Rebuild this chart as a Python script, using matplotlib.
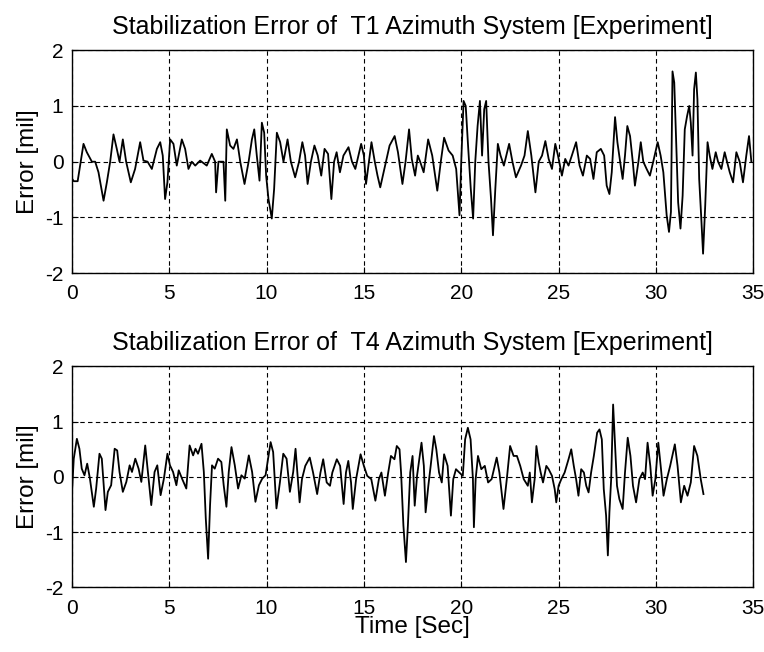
import matplotlib.pyplot as plt

# T1 azimuth stabilization error (time in s, error in mil)
t1_time = [0.0, 0.1, 0.3, 0.6, 0.77, 1.03, 1.2, 1.37, 1.63, 1.8, 1.97, 2.14, 2.31, 2.45, 2.62, 2.79,
           3.03, 3.25, 3.51, 3.68, 3.89, 4.11, 4.37, 4.54, 4.67, 4.79, 4.91, 5.05, 5.22, 5.39, 5.65,
           5.82, 5.99, 6.16, 6.34, 6.59, 6.93, 7.19, 7.36, 7.41, 7.53, 7.79, 7.88, 7.96, 8.13, 8.3,
           8.48, 8.65, 8.87, 9.08, 9.25, 9.37, 9.5, 9.64, 9.76, 9.88, 9.98, 10.1, 10.27, 10.39, 10.53,
           10.7, 10.87, 11.08, 11.25, 11.47, 11.67, 11.84, 11.98, 12.11, 12.28, 12.46, 12.63, 12.81,
           12.98, 13.16, 13.33, 13.47, 13.6, 13.77, 13.95, 14.21, 14.39, 14.56, 14.86, 15.0, 15.11,
           15.26, 15.39, 15.56, 15.7, 15.84, 16.05, 16.32, 16.58, 16.75, 16.98, 17.14, 17.32, 17.46,
           17.63, 17.77, 17.89, 18.07, 18.3, 18.51, 18.77, 18.95, 19.12, 19.35, 19.56, 19.74, 19.91,
           20.0, 20.12, 20.23, 20.35, 20.49, 20.61, 20.72, 20.84, 20.96, 21.07, 21.18, 21.28, 21.4,
           21.53, 21.63, 21.75, 21.88, 22.02, 22.19, 22.46, 22.63, 22.81, 23.07, 23.25, 23.42, 23.6,
           23.81, 23.98, 24.15, 24.32, 24.49, 24.66, 24.83, 24.97, 25.17, 25.34, 25.51, 25.68, 25.9,
           26.08, 26.25, 26.45, 26.62, 26.79, 26.96, 27.17, 27.34, 27.47, 27.61, 27.73, 27.9, 28.02,
           28.16, 28.29, 28.41, 28.53, 28.67, 28.81, 28.92, 29.1, 29.22, 29.35, 29.52, 29.69, 29.86,
           30.09, 30.24, 30.38, 30.55, 30.67, 30.77, 30.85, 30.94, 31.02, 31.14, 31.26, 31.37, 31.48,
           31.6, 31.71, 31.79, 31.88, 31.96, 32.05, 32.13, 32.22, 32.32, 32.42, 32.53, 32.65, 32.76,
           32.9, 33.07, 33.19, 33.36, 33.53, 33.65, 33.79, 33.96, 34.13, 34.3, 34.47, 34.64, 34.78,
           34.9]
t1_err = [-0.3, -0.35, -0.35, 0.32, 0.17, 0.0, 0.0, -0.19, -0.7, -0.37, 0.0, 0.49, 0.23, 0.0, 0.4, 0.0,
          -0.37, -0.13, 0.35, 0.02, 0.0, -0.13, 0.23, 0.35, 0.11, -0.67, -0.37, 0.4, 0.32, -0.07, 0.4,
          0.23, -0.13, 0.0, -0.07, 0.02, -0.07, 0.14, 0.0, -0.55, 0.0, 0.0, -0.7, 0.58, 0.29, 0.23,
          0.4, 0.0, -0.4, 0.0, 0.4, 0.58, 0.11, -0.34, 0.7, 0.52, -0.25, -0.67, -1.02, -0.49, 0.52,
          0.35, 0.0, 0.4, 0.0, -0.28, 0.0, 0.35, 0.11, -0.4, 0.0, 0.29, 0.11, -0.25,
          0.23, 0.14, -0.67, 0.0, 0.17, -0.19, 0.11, 0.26, 0.0, -0.13, 0.32, 0.11, -0.4,
          0.0, 0.35, 0.0, -0.25, -0.46, -0.13, 0.29, 0.46, 0.17, -0.4, 0.0, 0.58, 0.05,
          -0.25, 0.11, 0.0, -0.19, 0.4, 0.11, -0.52, 0.0, 0.43, 0.2, 0.11, -0.13, -0.96,
          0.0, 1.09, 1.0, 0.29, -0.49, -1.02, 0.0, 0.64, 1.09, 0.11, 0.94, 1.09, 0.0,
          -0.67, -1.32, -0.49, 0.32, 0.11, -0.07, 0.32, 0.0, -0.28, -0.07, 0.11, 0.55, 0.11,
          -0.55, 0.0, 0.11, 0.37, 0.05, -0.13, 0.32, 0.11, -0.25, 0.05, -0.07, 0.11, 0.35,
          -0.07, -0.25, 0.11, 0.05, -0.31, 0.17, 0.23, 0.11, -0.43, -0.58, -0.19, 0.8, 0.35,
          0.0, -0.31, 0.11, 0.64, 0.46, 0.0, -0.43, 0.0, 0.35, 0.0, -0.13, -0.25, 0.0,
          0.35, 0.11, -0.19, -0.96, -1.26, -0.9, 1.62, 1.42, 0.58, -0.73, -1.2, -0.61, 0.58,
          0.82, 1.0, 0.7, 0.11, 1.3, 1.6, 1.12, -0.31, -0.96, -1.65, -0.79, 0.35, 0.11,
          -0.13, 0.17, 0.0, -0.13, 0.17, 0.0, -0.19, -0.37, 0.17, 0.0, -0.37, 0.11, 0.46,
          0.0]

# T4 azimuth stabilization error
t4_time = [0.0, 0.1, 0.26, 0.39, 0.51, 0.65, 0.79, 0.93, 1.13, 1.25, 1.42, 1.54, 1.73, 1.85, 2.02, 2.2,
           2.33, 2.45, 2.62, 2.8, 2.97, 3.09, 3.26, 3.43, 3.57, 3.77, 3.91, 4.08, 4.25, 4.39, 4.56,
           4.73, 4.91, 5.04, 5.2, 5.37, 5.49, 5.66, 5.88, 6.05, 6.23, 6.35, 6.48, 6.66, 6.78, 6.88,
           7.0, 7.1, 7.2, 7.34, 7.51, 7.68, 7.8, 7.94, 8.06, 8.2, 8.37, 8.54, 8.71, 8.88, 9.09, 9.26,
           9.43, 9.61, 9.78, 9.95, 10.21, 10.34, 10.51, 10.69, 10.86, 11.03, 11.2, 11.37, 11.49,
           11.7, 11.82, 11.99, 12.22, 12.39, 12.6, 12.77, 12.91, 13.09, 13.26, 13.38, 13.61, 13.78,
           13.96, 14.08, 14.2, 14.34, 14.43, 14.6, 14.83, 15.0, 15.17, 15.38, 15.59, 15.77, 15.9,
           16.08, 16.25, 16.39, 16.57, 16.69, 16.83, 16.91, 17.03, 17.16, 17.26, 17.38, 17.5, 17.61,
           17.73, 17.96, 18.08, 18.17, 18.31, 18.43, 18.6, 18.72, 18.86, 19.0, 19.12, 19.3, 19.47,
           19.59, 19.73, 19.9, 20.08, 20.2, 20.34, 20.48, 20.6, 20.65, 20.74, 20.86, 21.03, 21.21,
           21.38, 21.56, 21.82, 21.96, 22.17, 22.34, 22.51, 22.69, 22.86, 23.03, 23.21, 23.42, 23.52,
           23.63, 23.77, 23.86, 23.98, 24.08, 24.2, 24.37, 24.49, 24.66, 24.8, 24.88, 25.0, 25.14,
           25.31, 25.51, 25.65, 25.78, 25.9, 26.02, 26.16, 26.3, 26.42, 26.54, 26.67, 26.81, 26.98,
           27.1, 27.22, 27.32, 27.44, 27.53, 27.61, 27.7, 27.8, 27.9, 28.0, 28.12, 28.29, 28.41,
           28.55, 28.69, 28.82, 28.98, 29.15, 29.32, 29.44, 29.57, 29.71, 29.83, 29.97, 30.12, 30.26,
           30.39, 30.56, 30.73, 30.97, 31.11, 31.28, 31.45, 31.62, 31.79, 31.96, 32.13, 32.3, 32.44]
t4_err = [-0.33, 0.33, 0.69, 0.51, 0.15, 0.03, 0.24, -0.03, -0.54, -0.21, 0.42, 0.33, -0.6, -0.27, -0.15, 0.51,
          0.48, 0.09, -0.27, -0.09, 0.21, 0.09, 0.33, 0.15, -0.09, 0.57, 0.09, -0.51, 0.09, 0.21, -0.33,
          -0.03, 0.42, 0.21, 0.09, -0.15, 0.12, -0.03, -0.21, 0.57, 0.39, 0.51, 0.42, 0.6, 0.09, -0.75,
          -1.48, -0.51, 0.21, 0.15, 0.33, 0.27, -0.15, -0.54, 0.09, 0.54, 0.21, -0.21, 0.03, -0.03, 0.39, 0.09,
          -0.45, -0.15, -0.03, 0.03, 0.63, 0.45, -0.57, -0.09, 0.42, 0.33, -0.27, 0.09, 0.51,
          -0.46, -0.04, 0.2, 0.35, 0.08, -0.31, 0.08, 0.32, -0.1, -0.16, 0.08, 0.32, 0.2,
          -0.49, 0.08, 0.29, -0.1, -0.58, -0.04, 0.41, 0.2, 0.02, -0.04, -0.43, -0.04, 0.08,
          -0.34, 0.08, 0.38, 0.32, 0.56, 0.5, 0.08, -0.88, -1.54, -0.88, 0.08, 0.38, -0.52,
          0.02, 0.62, 0.2, -0.64, -0.16, 0.2, 0.74, 0.5, 0.08, -0.1, 0.41, 0.2, -0.7,
          -0.04, 0.14, 0.08, 0.02, 0.68, 0.89, 0.68, -0.04, -0.91, -0.04, 0.38, 0.14, 0.2,
          -0.1, -0.04, 0.35, 0.08, -0.58, -0.04, 0.56, 0.38, 0.38, 0.2, -0.04, -0.16, 0.08,
          -0.46, -0.04, 0.56, 0.26, 0.08, -0.1, 0.2, 0.14, 0.02, -0.22, -0.46, -0.16, -0.04,
          0.08, 0.32, 0.5, 0.2, -0.04, -0.34, 0.14, 0.08, -0.16, -0.28, 0.08, 0.38, 0.8,
          0.86, 0.68, -0.22, -0.7, -1.42, -0.64, -0.04, 1.31, 0.56, -0.16, -0.4, -0.58, 0.08,
          0.71, 0.38, -0.16, -0.46, -0.04, 0.08, -0.04, 0.62, 0.2, -0.34, -0.04, 0.62, 0.14,
          -0.34, -0.04, 0.2, 0.59, 0.2, -0.46, -0.16, -0.34, -0.1, 0.56, 0.38, -0.04, -0.31]

titles = ['Stabilization Error of  T1 Azimuth System [Experiment]',
          'Stabilization Error of  T4 Azimuth System [Experiment]']
x_ticks = [0, 5, 10, 15, 20, 25, 30, 35]
y_ticks = [-2, -1, 0, 1, 2]

plt.rcParams['font.family'] = ['Liberation Sans', 'DejaVu Sans']
plt.rcParams['axes.unicode_minus'] = False

fig = plt.figure(figsize=(7.64, 6.52), dpi=100)
ax1 = fig.add_axes([0.094, 0.581, 0.892, 0.342])
ax2 = fig.add_axes([0.094, 0.099, 0.892, 0.339])

for ax, tt, ee, title in [(ax1, t1_time, t1_err, titles[0]), (ax2, t4_time, t4_err, titles[1])]:
    ax.plot(tt, ee, color='black', linewidth=1.3)
    ax.set_xlim(0, 35)
    ax.set_ylim(-2, 2)
    ax.set_xticks(x_ticks)
    ax.set_yticks(y_ticks)
    ax.grid(True, color='black', linestyle=(0, (4, 3)), linewidth=0.8)
    ax.tick_params(direction='in', length=4, labelsize=15)
    ax.tick_params(axis='x', pad=8)
    ax.tick_params(axis='y', pad=6)
    ax.set_title(title, fontsize=18, pad=12)
    ax.set_ylabel('Error [mil]', fontsize=17.5, labelpad=4)
    for s in ax.spines.values():
        s.set_linewidth(1.0)

ax2.set_xlabel('Time [Sec]', fontsize=17.5, labelpad=-1)

fig.savefig('out.png', dpi=100)
